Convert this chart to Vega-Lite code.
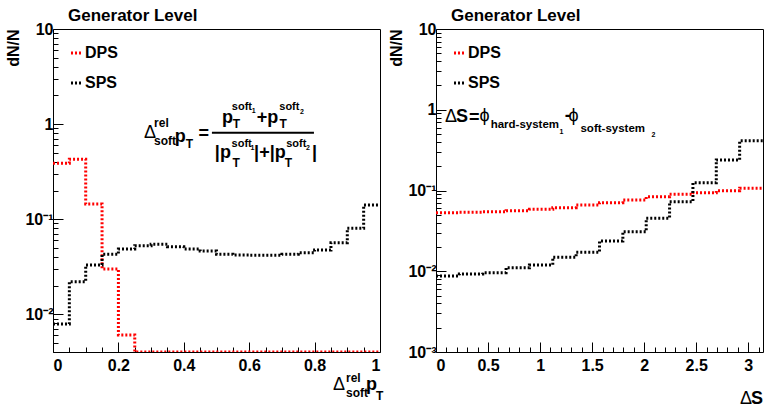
{
  "$schema": "https://vega.github.io/schema/vega-lite/v6.json",
  "padding": {"left": 5, "top": 6, "right": 0, "bottom": 3},
  "spacing": 4,
  "config": {
    "font": "Liberation Sans",
    "view": {"stroke": "#000", "strokeWidth": 1},
    "text": {"color": "#000"}
  },
  "resolve": {"scale": {"color": "independent"}, "legend": {"color": "independent"}},
  "datasets": {
    "left": [
      {"series": "DPS", "x": 0.00, "y": 0.387},
      {"series": "DPS", "x": 0.05, "y": 0.426},
      {"series": "DPS", "x": 0.10, "y": 0.144},
      {"series": "DPS", "x": 0.15, "y": 0.0299},
      {"series": "DPS", "x": 0.20, "y": 0.00604},
      {"series": "DPS", "x": 0.25, "y": 0.004},
      {"series": "DPS", "x": 0.30, "y": 0.004},
      {"series": "DPS", "x": 0.35, "y": 0.004},
      {"series": "DPS", "x": 0.40, "y": 0.004},
      {"series": "DPS", "x": 0.45, "y": 0.004},
      {"series": "DPS", "x": 0.50, "y": 0.004},
      {"series": "DPS", "x": 0.55, "y": 0.004},
      {"series": "DPS", "x": 0.60, "y": 0.004},
      {"series": "DPS", "x": 0.65, "y": 0.004},
      {"series": "DPS", "x": 0.70, "y": 0.004},
      {"series": "DPS", "x": 0.75, "y": 0.004},
      {"series": "DPS", "x": 0.80, "y": 0.004},
      {"series": "DPS", "x": 0.85, "y": 0.004},
      {"series": "DPS", "x": 0.90, "y": 0.004},
      {"series": "DPS", "x": 0.95, "y": 0.004},
      {"series": "DPS", "x": 1.00, "y": 0.004},
      {"series": "SPS", "x": 0.00, "y": 0.00788},
      {"series": "SPS", "x": 0.05, "y": 0.02196},
      {"series": "SPS", "x": 0.10, "y": 0.0329},
      {"series": "SPS", "x": 0.15, "y": 0.0427},
      {"series": "SPS", "x": 0.20, "y": 0.0485},
      {"series": "SPS", "x": 0.25, "y": 0.0525},
      {"series": "SPS", "x": 0.30, "y": 0.0543},
      {"series": "SPS", "x": 0.35, "y": 0.0513},
      {"series": "SPS", "x": 0.40, "y": 0.0485},
      {"series": "SPS", "x": 0.45, "y": 0.0462},
      {"series": "SPS", "x": 0.50, "y": 0.0427},
      {"series": "SPS", "x": 0.55, "y": 0.0419},
      {"series": "SPS", "x": 0.60, "y": 0.0416},
      {"series": "SPS", "x": 0.65, "y": 0.0416},
      {"series": "SPS", "x": 0.70, "y": 0.0427},
      {"series": "SPS", "x": 0.75, "y": 0.0443},
      {"series": "SPS", "x": 0.80, "y": 0.0473},
      {"series": "SPS", "x": 0.85, "y": 0.0565},
      {"series": "SPS", "x": 0.90, "y": 0.080},
      {"series": "SPS", "x": 0.95, "y": 0.1408},
      {"series": "SPS", "x": 1.00, "y": 0.1408}
    ],
    "right": [
      {"series": "DPS", "x": 0, "y": 0.0531},
      {"series": "DPS", "x": 0.2244, "y": 0.0537},
      {"series": "DPS", "x": 0.4488, "y": 0.0546},
      {"series": "DPS", "x": 0.6732, "y": 0.0562},
      {"series": "DPS", "x": 0.8976, "y": 0.0585},
      {"series": "DPS", "x": 1.1220, "y": 0.0612},
      {"series": "DPS", "x": 1.3464, "y": 0.0661},
      {"series": "DPS", "x": 1.5708, "y": 0.0706},
      {"series": "DPS", "x": 1.7952, "y": 0.0763},
      {"series": "DPS", "x": 2.0196, "y": 0.0838},
      {"series": "DPS", "x": 2.2440, "y": 0.0897},
      {"series": "DPS", "x": 2.4684, "y": 0.0939},
      {"series": "DPS", "x": 2.6928, "y": 0.0994},
      {"series": "DPS", "x": 2.9172, "y": 0.1065},
      {"series": "DPS", "x": 3.1416, "y": 0.1065},
      {"series": "SPS", "x": 0, "y": 0.00873},
      {"series": "SPS", "x": 0.2244, "y": 0.00925},
      {"series": "SPS", "x": 0.4488, "y": 0.0096},
      {"series": "SPS", "x": 0.6732, "y": 0.01107},
      {"series": "SPS", "x": 0.8976, "y": 0.01195},
      {"series": "SPS", "x": 1.1220, "y": 0.0149},
      {"series": "SPS", "x": 1.3464, "y": 0.01717},
      {"series": "SPS", "x": 1.5708, "y": 0.0237},
      {"series": "SPS", "x": 1.7952, "y": 0.0309},
      {"series": "SPS", "x": 2.0196, "y": 0.0453},
      {"series": "SPS", "x": 2.2440, "y": 0.0727},
      {"series": "SPS", "x": 2.4684, "y": 0.1249},
      {"series": "SPS", "x": 2.6928, "y": 0.2386},
      {"series": "SPS", "x": 2.9172, "y": 0.4136},
      {"series": "SPS", "x": 3.1416, "y": 0.4136}
    ]
  },
  "hconcat": [
    {
      "title": {"text": "Generator Level", "anchor": "start", "frame": "group", "dx": 15, "fontSize": 17, "fontWeight": "bold", "color": "#000", "offset": -17, "baseline": "alphabetic"},
      "width": 327,
      "height": 323,
      "resolve": {"axis": {"x": "independent", "y": "independent"}},
      "layer": [
        {
          "data": {"name": "left"},
          "mark": {"type": "line", "interpolate": "step-after", "strokeWidth": 3, "strokeDash": [2, 2], "clip": true},
          "encoding": {
            "x": {"field": "x", "type": "quantitative", "scale": {"domain": [0, 1], "nice": false},
              "axis": {"orient": "bottom", "values": [0, 0.2, 0.4, 0.6, 0.8, 1], "format": "~g", "tickSize": -10, "labelPadding": 15, "domain": false, "grid": false, "tickColor": "#000", "labelFontSize": 16, "labelFontWeight": "bold", "labelColor": "#000", "title": null}},
            "y": {"field": "y", "type": "quantitative", "scale": {"type": "log", "domain": [0.004, 10], "nice": false},
              "axis": {"orient": "left", "values": [0.01, 0.1, 1, 10], "labelExpr": "datum.value == 10 ? '10' : datum.value == 1 ? '1' : datum.value == 0.1 ? '10⁻¹' : '10⁻²'", "tickSize": -10, "labelPadding": 10, "domain": false, "grid": false, "tickColor": "#000", "labelFontSize": 16, "labelFontWeight": "bold", "labelColor": "#000", "title": "dN/N", "titleAnchor": "end", "titleFontSize": 16, "titleFontWeight": "bold", "titleColor": "#000", "titlePadding": 3}},
            "color": {"field": "series", "type": "nominal", "scale": {"domain": ["DPS", "SPS"], "range": ["#ff0000", "#000000"]},
              "legend": {"orient": "none", "legendX": 15, "legendY": 16, "title": null, "symbolType": "stroke", "symbolStrokeWidth": 3, "symbolDash": [2, 2], "symbolSize": 100, "labelFontSize": 16, "labelFontWeight": "bold", "labelColor": "#000", "rowPadding": 14, "padding": 0, "labelOffset": 1}}
          }
        },
        {
          "data": {"name": "left"},
          "mark": {"type": "point", "opacity": 0},
          "encoding": {
            "x": {"field": "x", "type": "quantitative", "scale": {"domain": [0, 1], "nice": false},
              "axis": {"orient": "bottom", "values": [0.05, 0.1, 0.15, 0.25, 0.3, 0.35, 0.45, 0.5, 0.55, 0.65, 0.7, 0.75, 0.85, 0.9, 0.95], "tickSize": -5, "labels": false, "domain": false, "grid": false, "tickColor": "#000", "title": null}},
            "y": {"field": "y", "type": "quantitative", "scale": {"type": "log", "domain": [0.004, 10], "nice": false},
              "axis": {"orient": "left", "values": [0.004, 0.005, 0.006, 0.007, 0.008, 0.009, 0.02, 0.03, 0.04, 0.05, 0.06, 0.07, 0.08, 0.09, 0.2, 0.3, 0.4, 0.5, 0.6, 0.7, 0.8, 0.9, 2, 3, 4, 5, 6, 7, 8, 9], "tickSize": -5, "labels": false, "domain": false, "grid": false, "tickColor": "#000", "title": null}}
          }
        },
        {"data": {"values": [{}]}, "mark": {"type": "text", "align": "left", "baseline": "alphabetic", "fontSize": 18, "text": "Δ"}, "encoding": {"x": {"datum": 0.278, "axis": null}, "y": {"datum": 0.713, "axis": null}}},
        {"data": {"values": [{}]}, "mark": {"type": "text", "align": "left", "baseline": "alphabetic", "fontSize": 12, "fontWeight": "bold", "text": "rel"}, "encoding": {"x": {"datum": 0.309, "axis": null}, "y": {"datum": 0.931, "axis": null}}},
        {"data": {"values": [{}]}, "mark": {"type": "text", "align": "left", "baseline": "alphabetic", "fontSize": 12, "fontWeight": "bold", "text": "soft"}, "encoding": {"x": {"datum": 0.309, "axis": null}, "y": {"datum": 0.602, "axis": null}}},
        {"data": {"values": [{}]}, "mark": {"type": "text", "align": "left", "baseline": "alphabetic", "fontSize": 18, "fontWeight": "bold", "text": "p"}, "encoding": {"x": {"datum": 0.372, "axis": null}, "y": {"datum": 0.648, "axis": null}}},
        {"data": {"values": [{}]}, "mark": {"type": "text", "align": "left", "baseline": "alphabetic", "fontSize": 12, "fontWeight": "bold", "text": "T"}, "encoding": {"x": {"datum": 0.406, "axis": null}, "y": {"datum": 0.560, "axis": null}}},
        {"data": {"values": [{}]}, "mark": {"type": "text", "align": "left", "baseline": "alphabetic", "fontSize": 18, "fontWeight": "bold", "text": "="}, "encoding": {"x": {"datum": 0.445, "axis": null}, "y": {"datum": 0.688, "axis": null}}},
        {"data": {"values": [{}]}, "mark": {"type": "rule", "strokeWidth": 2, "color": "#000"}, "encoding": {"x": {"datum": 0.486, "axis": null}, "x2": {"datum": 0.798}, "y": {"datum": 0.811, "axis": null}}},
        {"data": {"values": [{}]}, "mark": {"type": "text", "align": "left", "baseline": "alphabetic", "fontSize": 18, "fontWeight": "bold", "text": "p"}, "encoding": {"x": {"datum": 0.517, "axis": null}, "y": {"datum": 1.026, "axis": null}}},
        {"data": {"values": [{}]}, "mark": {"type": "text", "align": "left", "baseline": "alphabetic", "fontSize": 11, "fontWeight": "bold", "text": "soft"}, "encoding": {"x": {"datum": 0.547, "axis": null}, "y": {"datum": 1.406, "axis": null}}},
        {"data": {"values": [{}]}, "mark": {"type": "text", "align": "left", "baseline": "alphabetic", "fontSize": 7, "fontWeight": "bold", "text": "1"}, "encoding": {"x": {"datum": 0.6075, "axis": null}, "y": {"datum": 1.307, "axis": null}}},
        {"data": {"values": [{}]}, "mark": {"type": "text", "align": "left", "baseline": "alphabetic", "fontSize": 12, "fontWeight": "bold", "text": "T"}, "encoding": {"x": {"datum": 0.550, "axis": null}, "y": {"datum": 0.909, "axis": null}}},
        {"data": {"values": [{}]}, "mark": {"type": "text", "align": "left", "baseline": "alphabetic", "fontSize": 18, "fontWeight": "bold", "text": "+p"}, "encoding": {"x": {"datum": 0.623, "axis": null}, "y": {"datum": 1.026, "axis": null}}},
        {"data": {"values": [{}]}, "mark": {"type": "text", "align": "left", "baseline": "alphabetic", "fontSize": 11, "fontWeight": "bold", "text": "soft"}, "encoding": {"x": {"datum": 0.692, "axis": null}, "y": {"datum": 1.406, "axis": null}}},
        {"data": {"values": [{}]}, "mark": {"type": "text", "align": "left", "baseline": "alphabetic", "fontSize": 7, "fontWeight": "bold", "text": "2"}, "encoding": {"x": {"datum": 0.755, "axis": null}, "y": {"datum": 1.276, "axis": null}}},
        {"data": {"values": [{}]}, "mark": {"type": "text", "align": "left", "baseline": "alphabetic", "fontSize": 12, "fontWeight": "bold", "text": "T"}, "encoding": {"x": {"datum": 0.693, "axis": null}, "y": {"datum": 0.909, "axis": null}}},
        {"data": {"values": [{}]}, "mark": {"type": "text", "align": "left", "baseline": "alphabetic", "fontSize": 18, "fontWeight": "bold", "text": "|p"}, "encoding": {"x": {"datum": 0.495, "axis": null}, "y": {"datum": 0.4395, "axis": null}}},
        {"data": {"values": [{}]}, "mark": {"type": "text", "align": "left", "baseline": "alphabetic", "fontSize": 11, "fontWeight": "bold", "text": "soft"}, "encoding": {"x": {"datum": 0.546, "axis": null}, "y": {"datum": 0.574, "axis": null}}},
        {"data": {"values": [{}]}, "mark": {"type": "text", "align": "left", "baseline": "alphabetic", "fontSize": 7, "fontWeight": "bold", "text": "1"}, "encoding": {"x": {"datum": 0.604, "axis": null}, "y": {"datum": 0.5335, "axis": null}}},
        {"data": {"values": [{}]}, "mark": {"type": "text", "align": "left", "baseline": "alphabetic", "fontSize": 12, "fontWeight": "bold", "text": "T"}, "encoding": {"x": {"datum": 0.549, "axis": null}, "y": {"datum": 0.3533, "axis": null}}},
        {"data": {"values": [{}]}, "mark": {"type": "text", "align": "left", "baseline": "alphabetic", "fontSize": 18, "fontWeight": "bold", "text": "|+|p"}, "encoding": {"x": {"datum": 0.615, "axis": null}, "y": {"datum": 0.4395, "axis": null}}},
        {"data": {"values": [{}]}, "mark": {"type": "text", "align": "left", "baseline": "alphabetic", "fontSize": 11, "fontWeight": "bold", "text": "soft"}, "encoding": {"x": {"datum": 0.713, "axis": null}, "y": {"datum": 0.574, "axis": null}}},
        {"data": {"values": [{}]}, "mark": {"type": "text", "align": "left", "baseline": "alphabetic", "fontSize": 7, "fontWeight": "bold", "text": "2"}, "encoding": {"x": {"datum": 0.774, "axis": null}, "y": {"datum": 0.5335, "axis": null}}},
        {"data": {"values": [{}]}, "mark": {"type": "text", "align": "left", "baseline": "alphabetic", "fontSize": 12, "fontWeight": "bold", "text": "T"}, "encoding": {"x": {"datum": 0.709, "axis": null}, "y": {"datum": 0.3533, "axis": null}}},
        {"data": {"values": [{}]}, "mark": {"type": "text", "align": "left", "baseline": "alphabetic", "fontSize": 18, "fontWeight": "bold", "text": "|"}, "encoding": {"x": {"datum": 0.792, "axis": null}, "y": {"datum": 0.4395, "axis": null}}},
        {"data": {"values": [{}]}, "mark": {"type": "text", "align": "left", "baseline": "alphabetic", "fontSize": 18, "text": "Δ"}, "encoding": {"x": {"datum": 0.856, "axis": null}, "y": {"datum": 0.001593, "axis": null}}},
        {"data": {"values": [{}]}, "mark": {"type": "text", "align": "left", "baseline": "alphabetic", "fontSize": 12, "fontWeight": "bold", "text": "rel"}, "encoding": {"x": {"datum": 0.896, "axis": null}, "y": {"datum": 0.001934, "axis": null}}},
        {"data": {"values": [{}]}, "mark": {"type": "text", "align": "left", "baseline": "alphabetic", "fontSize": 12, "fontWeight": "bold", "text": "soft"}, "encoding": {"x": {"datum": 0.896, "axis": null}, "y": {"datum": 0.001345, "axis": null}}},
        {"data": {"values": [{}]}, "mark": {"type": "text", "align": "left", "baseline": "alphabetic", "fontSize": 18, "fontWeight": "bold", "text": "p"}, "encoding": {"x": {"datum": 0.957, "axis": null}, "y": {"datum": 0.001593, "axis": null}}},
        {"data": {"values": [{}]}, "mark": {"type": "text", "align": "left", "baseline": "alphabetic", "fontSize": 12, "fontWeight": "bold", "text": "T"}, "encoding": {"x": {"datum": 0.988, "axis": null}, "y": {"datum": 0.001251, "axis": null}}}
      ]
    },
    {
      "title": {"text": "Generator Level", "anchor": "start", "frame": "group", "dx": 15, "fontSize": 17, "fontWeight": "bold", "color": "#000", "offset": -17, "baseline": "alphabetic"},
      "width": 327,
      "height": 323,
      "resolve": {"axis": {"x": "independent", "y": "independent"}},
      "layer": [
        {
          "data": {"name": "right"},
          "mark": {"type": "line", "interpolate": "step-after", "strokeWidth": 3, "strokeDash": [2, 2], "clip": true},
          "encoding": {
            "x": {"field": "x", "type": "quantitative", "scale": {"domain": [0, 3.1416], "nice": false},
              "axis": {"orient": "bottom", "values": [0, 0.5, 1, 1.5, 2, 2.5, 3], "format": "~g", "tickSize": -10, "labelPadding": 15, "domain": false, "grid": false, "tickColor": "#000", "labelFontSize": 16, "labelFontWeight": "bold", "labelColor": "#000", "title": null}},
            "y": {"field": "y", "type": "quantitative", "scale": {"type": "log", "domain": [0.001, 10], "nice": false},
              "axis": {"orient": "left", "values": [0.001, 0.01, 0.1, 1, 10], "labelExpr": "datum.value == 10 ? '10' : datum.value == 1 ? '1' : datum.value == 0.1 ? '10⁻¹' : datum.value == 0.01 ? '10⁻²' : '10⁻³'", "tickSize": -10, "labelPadding": 10, "domain": false, "grid": false, "tickColor": "#000", "labelFontSize": 16, "labelFontWeight": "bold", "labelColor": "#000", "title": "dN/N", "titleAnchor": "end", "titleFontSize": 16, "titleFontWeight": "bold", "titleColor": "#000", "titlePadding": 3}},
            "color": {"field": "series", "type": "nominal", "scale": {"domain": ["DPS", "SPS"], "range": ["#ff0000", "#000000"]},
              "legend": {"orient": "none", "legendX": 15, "legendY": 16, "title": null, "symbolType": "stroke", "symbolStrokeWidth": 3, "symbolDash": [2, 2], "symbolSize": 100, "labelFontSize": 16, "labelFontWeight": "bold", "labelColor": "#000", "rowPadding": 14, "padding": 0, "labelOffset": 1}}
          }
        },
        {
          "data": {"name": "right"},
          "mark": {"type": "point", "opacity": 0},
          "encoding": {
            "x": {"field": "x", "type": "quantitative", "scale": {"domain": [0, 3.1416], "nice": false},
              "axis": {"orient": "bottom", "values": [0.1, 0.2, 0.3, 0.4, 0.6, 0.7, 0.8, 0.9, 1.1, 1.2, 1.3, 1.4, 1.6, 1.7, 1.8, 1.9, 2.1, 2.2, 2.3, 2.4, 2.6, 2.7, 2.8, 2.9, 3.1], "tickSize": -5, "labels": false, "domain": false, "grid": false, "tickColor": "#000", "title": null}},
            "y": {"field": "y", "type": "quantitative", "scale": {"type": "log", "domain": [0.001, 10], "nice": false},
              "axis": {"orient": "left", "values": [0.002, 0.003, 0.004, 0.005, 0.006, 0.007, 0.008, 0.009, 0.02, 0.03, 0.04, 0.05, 0.06, 0.07, 0.08, 0.09, 0.2, 0.3, 0.4, 0.5, 0.6, 0.7, 0.8, 0.9, 2, 3, 4, 5, 6, 7, 8, 9], "tickSize": -5, "labels": false, "domain": false, "grid": false, "tickColor": "#000", "title": null}}
          }
        },
        {"data": {"values": [{}]}, "mark": {"type": "text", "align": "left", "baseline": "alphabetic", "fontSize": 18, "text": "Δ"}, "encoding": {"x": {"datum": 0.0865, "axis": null}, "y": {"datum": 0.705, "axis": null}}},
        {"data": {"values": [{}]}, "mark": {"type": "text", "align": "left", "baseline": "alphabetic", "fontSize": 18, "fontWeight": "bold", "text": "S"}, "encoding": {"x": {"datum": 0.192, "axis": null}, "y": {"datum": 0.705, "axis": null}}},
        {"data": {"values": [{}]}, "mark": {"type": "text", "align": "left", "baseline": "alphabetic", "fontSize": 18, "fontWeight": "bold", "text": "="}, "encoding": {"x": {"datum": 0.317, "axis": null}, "y": {"datum": 0.6855, "axis": null}}},
        {"data": {"values": [{}]}, "mark": {"type": "text", "align": "left", "baseline": "alphabetic", "fontSize": 18, "text": "ϕ"}, "encoding": {"x": {"datum": 0.418, "axis": null}, "y": {"datum": 0.7255, "axis": null}}},
        {"data": {"values": [{}]}, "mark": {"type": "text", "align": "left", "baseline": "alphabetic", "fontSize": 11.5, "fontWeight": "bold", "text": "hard-system"}, "encoding": {"x": {"datum": 0.525, "axis": null}, "y": {"datum": 0.594, "axis": null}}},
        {"data": {"values": [{}]}, "mark": {"type": "text", "align": "left", "baseline": "alphabetic", "fontSize": 7, "fontWeight": "bold", "text": "1"}, "encoding": {"x": {"datum": 1.186, "axis": null}, "y": {"datum": 0.5008, "axis": null}}},
        {"data": {"values": [{}]}, "mark": {"type": "text", "align": "left", "baseline": "alphabetic", "fontSize": 18, "fontWeight": "bold", "text": "-"}, "encoding": {"x": {"datum": 1.236, "axis": null}, "y": {"datum": 0.7255, "axis": null}}},
        {"data": {"values": [{}]}, "mark": {"type": "text", "align": "left", "baseline": "alphabetic", "fontSize": 18, "text": "ϕ"}, "encoding": {"x": {"datum": 1.273, "axis": null}, "y": {"datum": 0.7255, "axis": null}}},
        {"data": {"values": [{}]}, "mark": {"type": "text", "align": "left", "baseline": "alphabetic", "fontSize": 11.5, "fontWeight": "bold", "text": "soft-system"}, "encoding": {"x": {"datum": 1.388, "axis": null}, "y": {"datum": 0.530, "axis": null}}},
        {"data": {"values": [{}]}, "mark": {"type": "text", "align": "left", "baseline": "alphabetic", "fontSize": 7, "fontWeight": "bold", "text": "2"}, "encoding": {"x": {"datum": 2.07, "axis": null}, "y": {"datum": 0.4597, "axis": null}}},
        {"data": {"values": [{}]}, "mark": {"type": "text", "align": "left", "baseline": "alphabetic", "fontSize": 18, "text": "Δ"}, "encoding": {"x": {"datum": 2.920, "axis": null}, "y": {"datum": 0.000227, "axis": null}}},
        {"data": {"values": [{}]}, "mark": {"type": "text", "align": "left", "baseline": "alphabetic", "fontSize": 18, "fontWeight": "bold", "text": "S"}, "encoding": {"x": {"datum": 3.026, "axis": null}, "y": {"datum": 0.000227, "axis": null}}}
      ]
    }
  ]
}
